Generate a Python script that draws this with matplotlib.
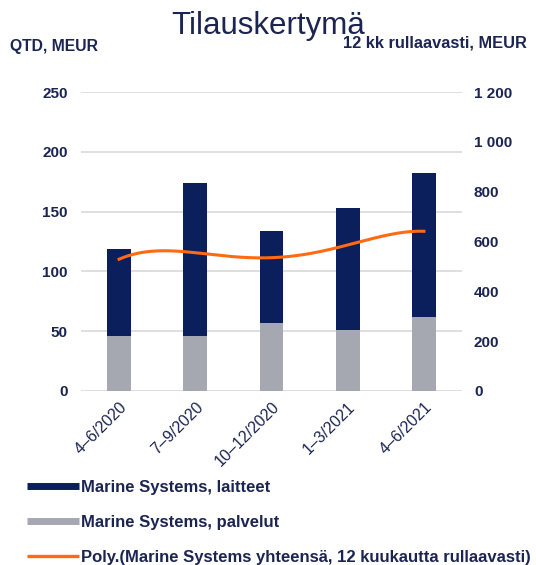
import numpy as np
import matplotlib
matplotlib.use('Agg')
import matplotlib.pyplot as plt
import matplotlib.lines as mlines
from matplotlib.ticker import FuncFormatter

plt.rcParams['font.family'] = ['Liberation Sans', 'DejaVu Sans']

# Data
quarters  = ['4–6/2020', '7–9/2020', '10–12/2020', '1–3/2021', '4–6/2021']
palvelut  = [46, 46, 56.5, 51, 62]          # Marine Systems, palvelut (QTD)
laitteet  = [72.5, 127.5, 77, 102, 120.5]   # Marine Systems, laitteet (QTD)
rolling12 = [529, 555, 535, 586, 641]       # poly trend of 12 m rolling total

NAVY   = '#0b1f5c'
GREY   = '#a5a8b0'
ORANGE = '#ff6a13'
TEXT   = '#1c2452'

fig = plt.figure(figsize=(5.36, 5.65), dpi=100)
ax = fig.add_axes([81 / 536, 1 - 391 / 565, 381 / 536, 299 / 565])

x = np.arange(len(quarters))
ax.bar(x, palvelut, width=0.31, color=GREY, zorder=2)
ax.bar(x, laitteet, width=0.31, bottom=palvelut, color=NAVY, zorder=2)

ax.set_xlim(-0.5, len(quarters) - 0.5)
ax.set_ylim(0, 250)
ax.set_yticks(np.arange(0, 251, 50))
ax.grid(axis='y', color='#d9d9d9', linewidth=1.2, zorder=0)
ax.set_xticks(x)
ax.set_xticklabels(quarters, rotation=45, ha='right', rotation_mode='anchor',
                   fontsize=11.5, color=TEXT)
ax.tick_params(axis='y', length=0, pad=9.5, labelsize=11, labelcolor=TEXT)
ax.tick_params(axis='x', length=0, pad=6)
for lbl in ax.get_yticklabels():
    lbl.set_fontweight('bold')
for s in ax.spines.values():
    s.set_visible(False)

# right axis: 12 kk rullaavasti
ax2 = ax.twinx()
ax2.set_ylim(0, 1200)
ax2.set_yticks(np.arange(0, 1201, 200))
ax2.yaxis.set_major_formatter(FuncFormatter(lambda v, p: f'{int(v):,}'.replace(',', ' ')))
ax2.tick_params(axis='y', length=0, pad=8.6, labelsize=11, labelcolor=TEXT)
for lbl in ax2.get_yticklabels():
    lbl.set_fontweight('bold')
for s in ax2.spines.values():
    s.set_visible(False)

# polynomial trendline through the rolling values
coef = np.polyfit(x, rolling12, 4)
xs = np.linspace(0, len(quarters) - 1, 200)
ax2.plot(xs, np.polyval(coef, xs), color=ORANGE, linewidth=2.2, zorder=3)

# Titles
fig.text(0.5, 1 - 26 / 565, 'Tilauskertymä', ha='center', va='center',
         fontsize=22.5, color=TEXT)
fig.text(10 / 536, 1 - 47 / 565, 'QTD, MEUR', ha='left', va='center',
         fontsize=11.3, fontweight='bold', color=TEXT)
fig.text(527 / 536, 1 - 43 / 565, '12 kk rullaavasti, MEUR', ha='right', va='center',
         fontsize=11.8, fontweight='bold', color=TEXT)

# Legend
handles = [
    mlines.Line2D([], [], color=NAVY, linewidth=5, solid_capstyle='butt',
                  label='Marine Systems, laitteet'),
    mlines.Line2D([], [], color=GREY, linewidth=5, solid_capstyle='butt',
                  label='Marine Systems, palvelut'),
    mlines.Line2D([], [], color=ORANGE, linewidth=2.4, solid_capstyle='butt',
                  label='Poly.(Marine Systems yhteensä, 12 kuukautta rullaavasti)'),
]
leg = fig.legend(handles=handles, loc='upper left',
                 bbox_to_anchor=(27 / 536, 1 - 480 / 565),
                 frameon=False, borderpad=0, borderaxespad=0,
                 handlelength=3.1, handletextpad=0.12,
                 labelspacing=1.2, prop={'size': 12, 'weight': 'bold'})
for t in leg.get_texts():
    t.set_color(TEXT)

fig.savefig('out.png', dpi=100)
